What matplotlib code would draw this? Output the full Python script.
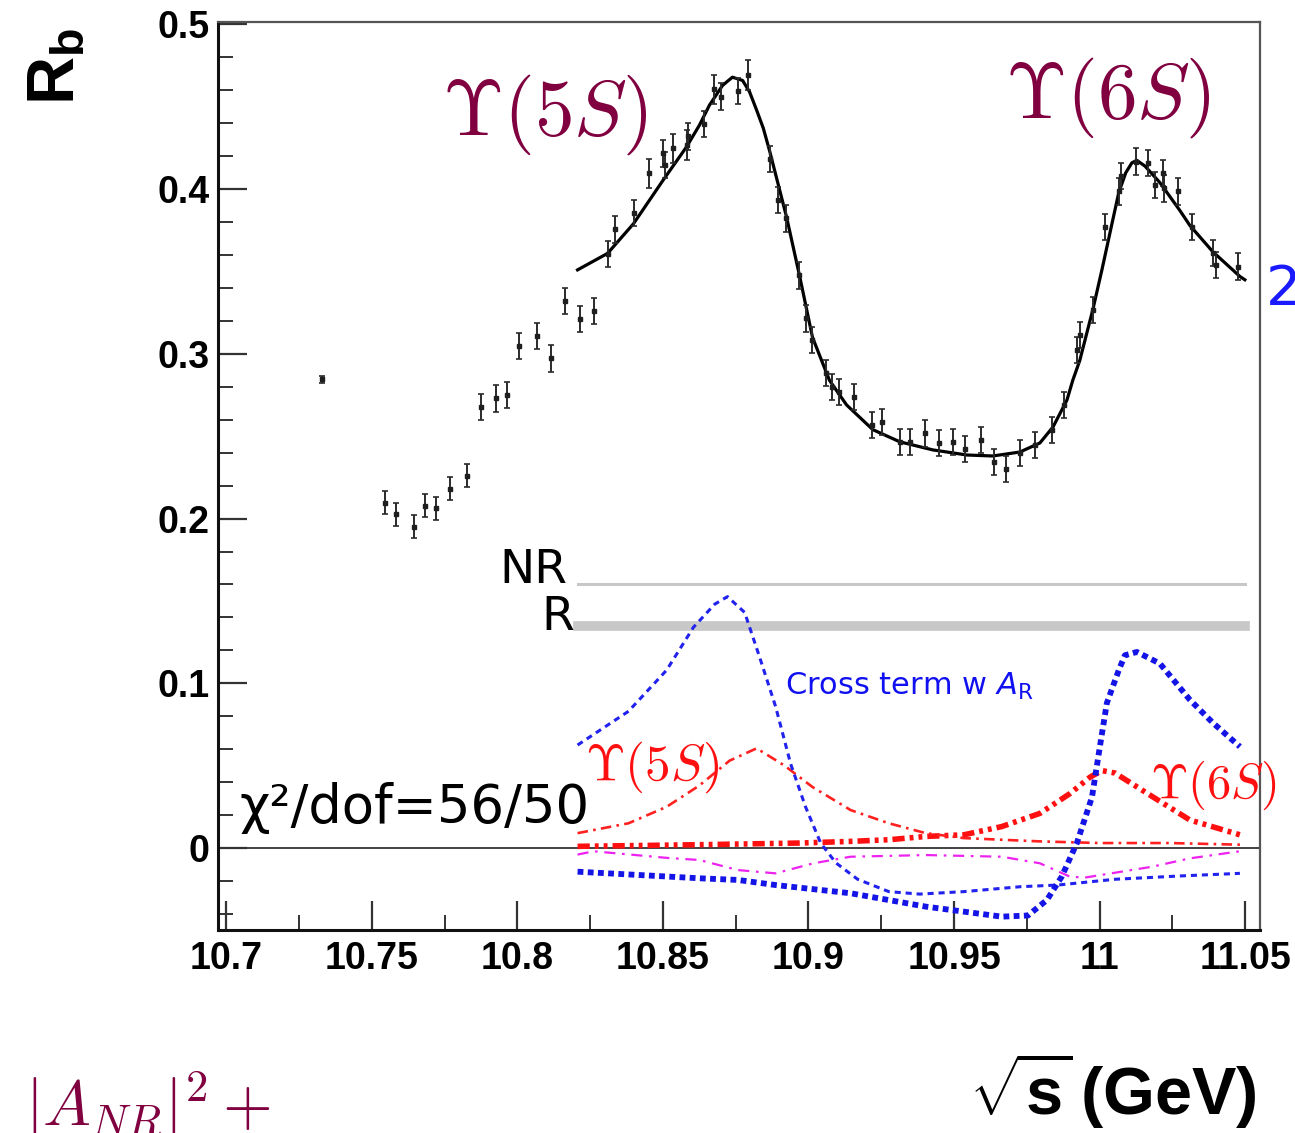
import matplotlib
matplotlib.use("Agg")
import matplotlib.pyplot as plt
from matplotlib.ticker import MultipleLocator, FixedLocator, FixedFormatter

plt.rcParams['mathtext.fontset'] = 'custom'
plt.rcParams['mathtext.rm'] = 'Liberation Sans'
plt.rcParams['mathtext.bf'] = 'Liberation Sans:bold'
plt.rcParams['mathtext.it'] = 'Liberation Sans:italic'

# ---------------- data ----------------
pts_x = [10.7329, 10.7544, 10.7585, 10.7644, 10.7683, 10.7722, 10.7769, 10.7828,
         10.7877, 10.7928, 10.7963, 10.8005, 10.8069, 10.8115, 10.8163, 10.8217,
         10.8265, 10.8311, 10.8336, 10.8400, 10.8454, 10.8500, 10.8506, 10.8534,
         10.8582, 10.8588, 10.8643, 10.8674, 10.8698, 10.8758, 10.8792, 10.8867,
         10.8895, 10.8922, 10.8967, 10.8990, 10.9013, 10.9059, 10.9082, 10.9105,
         10.9155, 10.9220, 10.9254, 10.9316, 10.9350, 10.9402, 10.9449, 10.9495,
         10.9539, 10.9591, 10.9636, 10.9678, 10.9728, 10.9778, 10.9835, 10.9877,
         10.9921, 10.9932, 10.9976, 11.0018, 11.0067, 11.0073, 11.0125, 11.0165,
         11.0190, 11.0219, 11.0222, 11.0270, 11.0316, 11.0391, 11.0399, 11.0477]
pts_y = [0.2846, 0.2097, 0.2025, 0.1950, 0.2077, 0.2063, 0.2180, 0.2260,
         0.2678, 0.2730, 0.2750, 0.3048, 0.3109, 0.2972, 0.3321, 0.3210,
         0.3260, 0.3607, 0.3756, 0.3857, 0.4096, 0.4217, 0.4145, 0.4247,
         0.4268, 0.4320, 0.4396, 0.4606, 0.4562, 0.4597, 0.4693, 0.4183,
         0.3934, 0.3823, 0.3476, 0.3215, 0.3084, 0.2882, 0.2800, 0.2770,
         0.2740, 0.2568, 0.2588, 0.2466, 0.2466, 0.2517, 0.2460, 0.2466,
         0.2423, 0.2477, 0.2345, 0.2301, 0.2400, 0.2447, 0.2538, 0.2690,
         0.3024, 0.3115, 0.3267, 0.3772, 0.3986, 0.4080, 0.4168, 0.4159,
         0.4026, 0.4098, 0.4005, 0.3986, 0.3772, 0.3612, 0.3540, 0.3530]
pts_err = [0.002] + [0.007] * 7 + [0.008] * 12 + [0.009, 0.008, 0.008, 0.009, 0.009, 0.008,
           0.008, 0.009, 0.008, 0.008, 0.009] + [0.008] * 41

fit_x = [10.8207, 10.8310, 10.8399, 10.8499, 10.8581, 10.8626, 10.8660, 10.8705,
         10.8739, 10.8774, 10.8798, 10.8822, 10.8845, 10.8867, 10.8925, 10.8970,
         10.9014, 10.9072, 10.9131, 10.9221, 10.9314, 10.9427, 10.9544, 10.9633,
         10.9726, 10.9795, 10.9840, 10.9888, 10.9908, 10.9932, 10.9977, 11.0008,
         11.0040, 11.0066, 11.0090, 11.0111, 11.0128, 11.0156, 11.0207, 11.0276,
         11.0310, 11.0389, 11.0482, 11.0499]
fit_y = [0.351, 0.361, 0.379, 0.405, 0.4256, 0.439, 0.451, 0.463,
         0.468, 0.466, 0.459, 0.448, 0.437, 0.423, 0.383, 0.347,
         0.310, 0.284, 0.269, 0.254, 0.2466, 0.2417, 0.2386, 0.238,
         0.2404, 0.2459, 0.2556, 0.272, 0.284, 0.296, 0.327, 0.351,
         0.377, 0.398, 0.410, 0.416, 0.4175, 0.414, 0.404, 0.387,
         0.378, 0.362, 0.347, 0.345]

# cross term with A_R (fine blue dashed)
crossA_x = [10.8207, 10.8382, 10.8513, 10.8605, 10.8678, 10.8722, 10.8781, 10.8832,
            10.8887, 10.8939, 10.8990, 10.9042, 10.9094, 10.9169, 10.9276, 10.9382,
            10.9534, 10.9729, 10.9857, 11.0053, 11.0276, 11.0482]
crossA_y = [0.0625, 0.083, 0.108, 0.134, 0.148, 0.1526, 0.143, 0.116,
            0.086, 0.051, 0.025, 0.003, -0.009, -0.019, -0.0265, -0.028,
            -0.0265, -0.0235, -0.0225, -0.019, -0.017, -0.0154]
# thick blue dotted
crossB_x = [10.8207, 10.8626, 10.8757, 10.8887, 10.9145, 10.9403, 10.9664, 10.9754,
            10.9819, 10.9870, 10.9922, 10.9974, 11.0001, 11.0025, 11.0066, 11.0087,
            11.0128, 11.0207, 11.0310, 11.0389, 11.0482]
crossB_y = [-0.0144, -0.0184, -0.0194, -0.0225, -0.0275, -0.0356, -0.0417, -0.041,
            -0.0316, -0.0174, 0.003, 0.031, 0.0615, 0.088, 0.108, 0.117,
            0.119, 0.112, 0.090, 0.076, 0.0615]
# magenta dash-dot
magenta_x = [10.8207, 10.8262, 10.8513, 10.8626, 10.8757, 10.8887, 10.9017, 10.9145,
             10.9403, 10.9664, 10.9795, 10.9898, 10.9949, 11.0183, 11.0310, 11.0482]
magenta_y = [-0.004, -0.002, -0.006, -0.0073, -0.0134, -0.0154, -0.0093, -0.0053,
             -0.0043, -0.0053, -0.0093, -0.0174, -0.018, -0.0113, -0.0063, -0.002]
# Upsilon(5S) Breit-Wigner (thin red dash-dot)
bw5_x = [10.8207, 10.8382, 10.8513, 10.8626, 10.8729, 10.8822, 10.8918, 10.9014,
         10.9145, 10.9276, 10.9403, 10.9534, 10.9664, 10.9795, 11.0001, 11.0241, 11.0482]
bw5_y = [0.009, 0.015, 0.025, 0.038, 0.053, 0.0605, 0.050, 0.037,
         0.023, 0.015, 0.009, 0.006, 0.005, 0.004, 0.003, 0.003, 0.002]
# Upsilon(6S) Breit-Wigner (thick red dash-dot-dot)
bw6_x = [10.8207, 10.8626, 10.8970, 10.9145, 10.9276, 10.9403, 10.9534, 10.9664,
         10.9795, 10.9898, 10.9967, 11.0008, 11.0053, 11.0183, 11.0310, 11.0482]
bw6_y = [0.001, 0.002, 0.003, 0.004, 0.005, 0.007, 0.008, 0.013,
         0.021, 0.033, 0.043, 0.047, 0.0455, 0.031, 0.017, 0.008]

nr_level = 0.160
r_level = 0.135
band_x = [10.8207, 11.0499]

x_ticks = [10.7, 10.75, 10.8, 10.85, 10.9, 10.95, 11.0, 11.05]
x_labels = ['10.7', '10.75', '10.8', '10.85', '10.9', '10.95', '11', '11.05']
y_ticks = [0, 0.1, 0.2, 0.3, 0.4, 0.5]
y_labels = ['0', '0.1', '0.2', '0.3', '0.4', '0.5']

maroon = '#800040'

# ---------------- figure ----------------
W, H = 1295, 1133
fig = plt.figure(figsize=(W / 100, H / 100), dpi=100)
ax = fig.add_axes([218 / W, 1 - 930 / H, (1260 - 218) / W, (930 - 22) / H])
ax.set_xlim(10.6972, 11.0551)
ax.set_ylim(-0.0498, 0.5015)

# grey bands
ax.plot(band_x, [nr_level, nr_level], color='#c8c8c8', lw=2.2, zorder=1)
ax.plot(band_x, [r_level, r_level], color='#c8c8c8', lw=7, zorder=1)
ax.axhline(0, color='#333333', lw=1.3, zorder=1)

# component curves
ax.plot(bw6_x, bw6_y, color='#ff1010', lw=4, dashes=(2.2, 0.9, 0.7, 0.9, 0.7, 0.9), zorder=3)
ax.plot(bw5_x, bw5_y, color='#ff2020', lw=1.9, dashes=(4, 2, 1, 2), zorder=3)
ax.plot(magenta_x, magenta_y, color='#ee22ee', lw=1.6, dashes=(5, 3, 1.2, 3), zorder=3)
ax.plot(crossA_x, crossA_y, color='#2222ee', lw=2.2, dashes=(2, 1.6), zorder=4)
ax.plot(crossB_x, crossB_y, color='#1414e6', lw=4.2, dashes=(1, 0.75), zorder=4)

# fit and data
ax.plot(fit_x, fit_y, color='black', lw=2.3, zorder=5)
ax.errorbar(pts_x, pts_y, yerr=pts_err, fmt='s', ms=3, color='#1e1e1e',
            ecolor='#2a2a2a', elinewidth=1.4, capsize=2.5, capthick=1.2, zorder=6)

# axes styling
for s in ['left', 'bottom']:
    ax.spines[s].set_linewidth(2.2)
    ax.spines[s].set_color('#111111')
for s in ['top', 'right']:
    ax.spines[s].set_linewidth(1.6)
    ax.spines[s].set_color('#555555')

ax.xaxis.set_major_locator(FixedLocator(x_ticks))
ax.xaxis.set_major_formatter(FixedFormatter(x_labels))
ax.xaxis.set_minor_locator(MultipleLocator(0.025))
ax.yaxis.set_major_locator(FixedLocator(y_ticks))
ax.yaxis.set_major_formatter(FixedFormatter(y_labels))
ax.yaxis.set_minor_locator(MultipleLocator(0.02))
ax.tick_params(axis='both', which='both', direction='in', color='#333333')
ax.tick_params(axis='both', which='major', length=21, width=1.6)
ax.tick_params(axis='both', which='minor', length=11, width=1.4)
ax.tick_params(axis='x', which='major', pad=8)
ax.tick_params(axis='y', which='major', pad=6)
for lab in ax.get_xticklabels():
    lab.set_fontfamily('Liberation Sans'); lab.set_fontweight('bold'); lab.set_fontsize(27)
for lab in ax.get_yticklabels():
    lab.set_fontfamily('Liberation Sans'); lab.set_fontweight('bold'); lab.set_fontsize(27)

# annotations inside axes
ax.text(10.7743, 0.433, r'$\Upsilon(5S)$', color=maroon, fontsize=57,
        math_fontfamily='cm', ha='left', va='baseline', zorder=7)
ax.text(10.9674, 0.4432, r'$\Upsilon(6S)$', color=maroon, fontsize=57,
        math_fontfamily='cm', ha='left', va='baseline', zorder=7)
ax.text(10.8231, 0.0413, r'$\Upsilon(5S)$', color='#ff1010', fontsize=37,
        math_fontfamily='cm', ha='left', va='baseline', zorder=7)
ax.text(11.0173, 0.0304, r'$\Upsilon(6S)$', color='#ff1010', fontsize=35,
        math_fontfamily='cm', ha='left', va='baseline', zorder=7)
ax.text(10.8172, 0.161, 'NR', color='black', fontsize=34, family='DejaVu Sans',
        ha='right', va='baseline', zorder=7)
ax.text(10.8196, 0.1324, 'R', color='black', fontsize=34, family='DejaVu Sans',
        ha='right', va='baseline', zorder=7)
ax.text(10.7045, 0.0152, 'χ²/dof=56/50', color='black', fontsize=38, family='DejaVu Sans',
        ha='left', va='baseline', zorder=7)
ax.text(10.8918, 0.0929, r'Cross term w $A_{\rm R}$', color='#1010f0', fontsize=22,
        family='DejaVu Sans', math_fontfamily='dejavusans', ha='left', va='baseline', zorder=7)

# labels outside axes
fig.text(56 / W, 1 - 66 / H, r'R$_{\mathbf{b}}$', rotation=90, fontsize=48,
         family='Liberation Sans', fontweight='bold', math_fontfamily='custom',
         ha='center', va='center')
fig.text(1113 / W, 1 - 1090 / H, r'$\sqrt{\mathbf{s}}\,$(GeV)', fontsize=48,
         family='Liberation Sans', fontweight='bold', math_fontfamily='custom',
         ha='center', va='center')
fig.text(25 / W, 7 / H, r'$|A_{NR}|^2+$', color=maroon, fontsize=46,
         math_fontfamily='cm', ha='left', va='baseline')
fig.text(1266 / W, 1 - 290 / H, '2', color='#1a1aff', fontsize=40,
         family='DejaVu Sans', ha='left', va='center')

fig.savefig('out.png', dpi=100)
